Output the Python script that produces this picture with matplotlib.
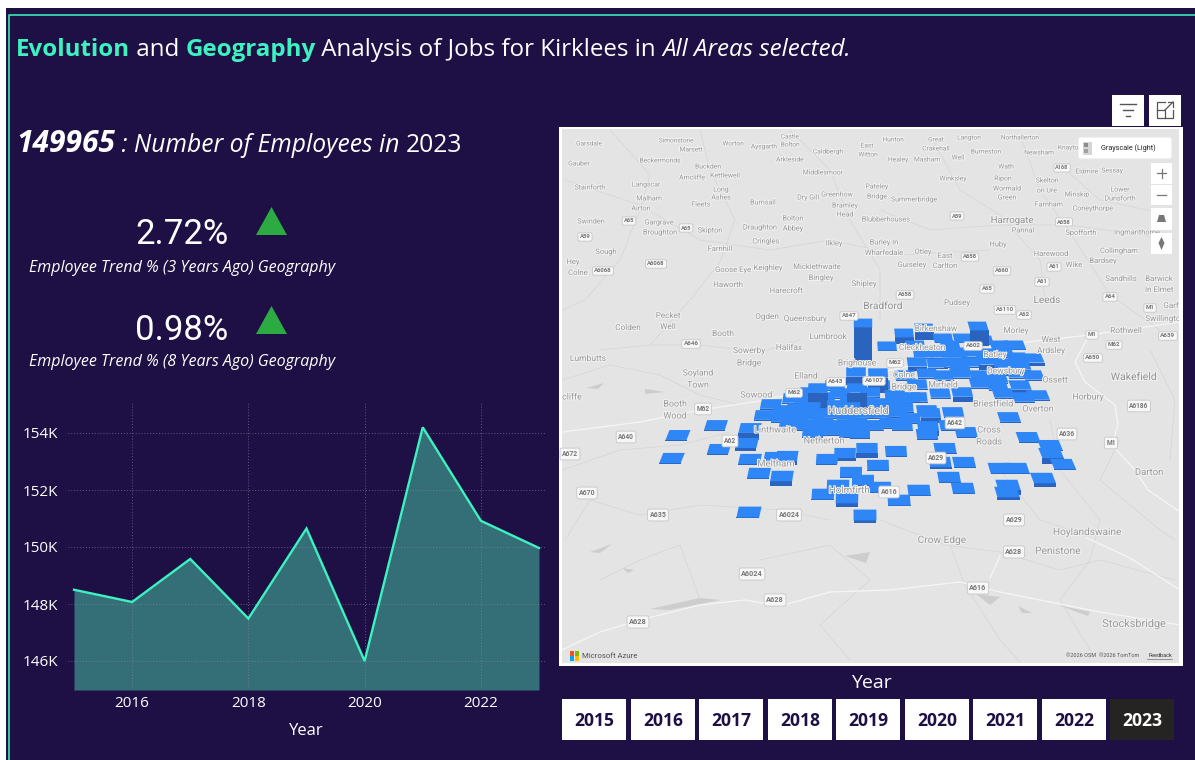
import matplotlib
matplotlib.use("Agg")
import matplotlib.pyplot as plt
import matplotlib.patheffects as pe
from matplotlib.patches import Rectangle, Polygon, FancyBboxPatch

# employees per year
years = [2015, 2016, 2017, 2018, 2019, 2020, 2021, 2022, 2023]
employees = [148500, 148070, 149580, 147490, 150650, 146000, 154200, 150920, 149965]
y_ticks = [146000, 148000, 150000, 152000, 154000]
y_labels = ["146K", "148K", "150K", "152K", "154K"]
x_ticks = [2016, 2018, 2020, 2022]
kpi_values = ["2.72%", "0.98%"]
kpi_labels = ["Employee Trend % (3 Years Ago) Geography", "Employee Trend % (8 Years Ago) Geography"]
slicer_years = ["2015", "2016", "2017", "2018", "2019", "2020", "2021", "2022", "2023"]

# map places, in map coordinates
place_names = ["Garsdale", "Simonstone", "Marsett", "Worton", "Aysgarth", "Castle", "Bolton", "Caldbergh", "Gauber",
               "Beckermonds", "Buckden", "Arkleside", "Middlesmoor", "Arncliffe", "Kettlewell", "Stainforth", "Langscar",
               "Long", "Ashes", "Malham", "Airton", "Fleets", "Burnsall", "Dry Gill", "Greenhow", "Bramley", "Head",
               "Swinden", "Gargrave", "Broughton", "Skipton", "Draughton", "Bolton", "Abbey", "Cringles", "Ilkley",
               "Sough", "Farnhill", "Hey", "Colne", "Goose Eye", "Keighley", "Micklethwaite", "Bingley", "Haworth",
               "Harecroft", "Shipley", "Pecket", "Well", "Colden", "Ogden", "Queensbury", "Hunton", "Great", "Crakehall",
               "Langton", "Northallerton", "East", "Witton", "Healey", "Masham", "Well", "Burneston", "Newsham", "Knayton",
               "Wath", "Eldmire", "Sessay", "Winksley", "Ripon", "Skelton", "on Ure", "Wormald", "Green", "Pateley",
               "Bridge", "Summerbridge", "Minskip", "Lower", "Dunsforth", "Farnham", "Coneythorpe", "Blubberhouses",
               "Pannal", "Spofforth", "Ingmanthorpe", "Burley In", "Wharfedale", "Otley", "East", "Carlton", "Huby",
               "Guiseley", "Harewood", "Collingham", "Bardsey", "Wike", "Sandhills", "Barwick", "In Elmet", "Pudsey",
               "Garforth", "Swillington", "Morley", "Rothwell", "Birkenshaw", "Booth", "Lumbrook", "Sowerby", "Bridge",
               "Halifax", "Brighouse", "West", "Ardsley", "Soyland", "Town", "Elland", "Sowood", "Booth", "Wood", "Colne",
               "Bridge", "Mirfield", "Dewsbury", "Batley", "Cleckheaton", "Ossett", "Briestfield", "Overton", "Horbury",
               "Linthwaite", "Netherton", "Cross", "Roads", "Meltham", "Holmfirth", "Crow Edge", "Hoylandswaine",
               "Penistone", "Stocksbridge", "Lumbutts", "cliffe", "Darton"]
place_x = [589, 676, 691, 733, 764, 790, 790, 828, 579, 660, 708, 790, 823, 692, 725, 590, 646, 721, 721, 649, 641, 701,
           763, 808, 837, 845, 845, 591, 659, 660, 710, 760, 793, 793, 766, 834, 606, 720, 573, 578, 733, 768, 817, 821,
           728, 786, 864, 668, 668, 628, 767, 805, 893, 936, 936, 969, 1020, 867, 868, 898, 927, 958, 986, 1039, 1070,
           1006, 1087, 1112, 953, 1003, 1047, 1047, 1007, 1007, 877, 877, 914, 1077, 1120, 1120, 1049, 1093, 886, 1023,
           1081, 1137, 884, 884, 923, 945, 945, 998, 912, 1051, 1119, 1103, 1074, 1121, 1159, 1159, 957, 1178, 1165,
           1016, 1126, 936, 723, 828, 749, 749, 789, 857, 1051, 1051, 698, 698, 806, 756, 675, 675, 904, 904, 943, 1006,
           995, 922, 1055, 993, 1038, 1088, 775, 824, 989, 989, 776, 849, 942, 1087, 1058, 1134, 588, 572, 1149]
place_y = [144, 141, 150, 144, 147, 137, 145, 152, 164, 161, 167, 160, 173, 178, 176, 188, 185, 190, 198, 199, 209, 205,
           203, 198, 195, 206, 215, 222, 223, 233, 231, 228, 219, 229, 242, 244, 252, 249, 262, 273, 270, 268, 267, 278,
           285, 291, 284, 316, 327, 328, 317, 319, 140, 140, 149, 138, 138, 146, 155, 160, 160, 158, 152, 153, 148,
           167, 172, 171, 179, 179, 181, 191, 189, 198, 187, 197, 200, 195, 190, 199, 205, 209, 220, 231,
           233, 233, 243, 253, 252, 256, 266, 245, 265, 254, 251, 261, 265, 279, 279, 290, 303, 306, 319,
           331, 331, 329, 334, 337, 351, 363, 348, 363, 340, 351, 373, 385, 376, 395, 404, 416, 375, 387, 385, 371,
           355, 348, 380, 404, 409, 397, 430, 441, 430, 442, 464, 490, 540, 532, 551, 624, 359, 397, 472]
city_names = ["Bradford", "Leeds", "Harrogate", "Huddersfield", "Wakefield"]
city_x = [883, 1047, 1012, 858, 1134]
city_y = [306, 300, 220, 411, 377]
shield_names = ["A65", "A65", "A59", "A6068", "A6068", "A647", "A59", "A168", "A658", "A658", "A658", "A660", "A61", "A61",
                "A65", "A64", "M1", "A6110", "A62", "A646", "M62", "A643", "A6107", "M62", "M62", "A62", "A642", "A636",
                "A629", "A616", "A6024", "A635", "A629", "A640", "A672", "A670", "A628", "A6024", "A628", "A628", "A616",
                "A639", "M62", "M1", "A650", "A6186", "M1", "A602"]
shield_x = [629, 686, 585, 656, 603, 849, 957, 1062, 1064, 970, 905, 1002, 1054, 1042, 987, 1110, 1150, 1005, 1024, 691,
            895, 836, 874, 794, 703, 730, 955, 1067, 936, 889, 789, 658, 1014, 626, 570, 587, 638, 752, 775, 1014, 978,
            1168, 1114, 1092, 1093, 1139, 1111, 973]
shield_y = [221, 228, 237, 264, 271, 316, 216, 168, 222, 257, 295, 271, 267, 282, 289, 297, 308, 310, 315, 344, 363, 382,
            381, 393, 409, 441, 423, 434, 458, 492, 515, 515, 520, 437, 454, 493, 622, 574, 600, 552, 588, 336, 345, 335,
            358, 406, 443, 346]

# job location bars, position and height on the map
bar_x = [678, 716, 672, 719, 750, 747, 750, 759, 782, 775, 787, 771, 765, 781, 749, 865, 823, 847, 899, 919, 963, 949,
         964, 940, 945, 878, 851, 863, 838, 880, 867, 896, 827, 845, 1008, 1007, 1000, 1017, 1043, 1063, 1051, 1050,
         1028, 1009, 966, 953, 928, 927, 950,
         783, 797, 810, 823, 837, 850, 867, 883, 897, 903, 782, 797, 813, 830, 847, 863, 880, 897, 910, 790, 807, 823,
         840, 857, 873, 890, 902, 813, 832, 850, 860, 793, 810, 840, 818, 857, 878, 863, 856, 917, 927,
         924, 904, 978, 887, 943, 963, 983, 923, 940, 957, 970, 987, 1003, 1017, 1033, 917, 937, 953, 970, 987, 1003,
         1020, 927, 943, 960, 980, 997, 1017, 1033, 917, 940, 962, 980, 997, 1020, 1003, 1023, 1038, 910, 930,
         825, 850, 870, 835, 805, 880, 895, 950, 1000, 1015, 960, 905, 915]
bar_y = [435, 425, 458, 449, 428, 443, 459, 473, 476, 457, 456, 404, 415, 415, 512, 515, 494, 498, 500, 490, 488, 477,
         462, 462, 448, 465, 472, 480, 485, 487, 448, 451, 459, 453, 485, 492, 468, 468, 478, 464, 453, 445,
         437, 417, 432, 412, 426, 434, 425,
         410, 408, 407, 403, 405, 407, 402, 403, 400, 407, 417, 417, 415, 413, 415, 413, 413, 412, 418, 423, 425, 423,
         425, 423, 425, 423, 425, 432, 430, 432, 433, 398, 392, 393, 388, 388, 373, 323, 372, 397, 410,
         328, 333, 326, 346, 338, 338, 340, 353, 353, 353, 352, 353, 352, 357, 358, 362, 363, 362, 362, 360, 363,
         365, 373, 375, 373, 375, 378, 373, 375, 384, 393, 392, 383, 385, 385, 393, 397, 395, 397, 413,
         397, 398, 392, 385, 398, 385, 395, 345, 345, 345, 368, 375, 345]
bar_h = [1, 1, 1, 1, 7, 3, 1, 1, 5, 1, 4, 1, 1, 1, 1, 3, 1, 4, 1, 1, 1, 1,
         1, 2, 1, 1, 1, 1, 1, 1, 5, 1, 1, 3, 5, 3, 1, 1, 4, 1, 6, 1,
         1, 1, 1, 1, 5, 1, 1,
         1, 1, 1, 1, 1, 1, 1, 1, 1, 1, 1, 1, 1, 1, 1, 1, 1, 1, 1, 1, 1, 1,
         1, 1, 1, 1, 1, 1, 1, 1, 1, 1, 1, 1, 17, 18, 15, 36, 8, 1, 1,
         8, 7, 16, 1, 1, 1, 1, 1, 1, 1, 1, 1, 1, 1, 3, 4, 1, 1, 1, 5, 8,
         1, 1, 1, 1, 1, 1, 1, 1, 1, 1, 5, 1, 1, 4, 1, 1, 1, 1, 5,
         1, 1, 1, 1, 1, 1, 1, 1, 1, 1, 1, 1, 1]

# basemap roads and reservoirs
main_roads = [[(562, 432), (640, 422), (700, 410), (760, 401), (830, 385), (900, 368), (1000, 345), (1090, 335), (1180, 322)],
              [(1092, 330), (1075, 362), (1085, 382), (1115, 405), (1118, 425), (1112, 445), (1135, 470), (1148, 490), (1180, 512)],
              [(562, 650), (600, 632), (640, 620), (700, 605), (745, 600), (780, 606), (830, 592), (890, 590), (960, 582),
               (1000, 592), (1050, 602), (1100, 612), (1180, 625)],
              [(1087, 538), (1130, 558), (1180, 590)], [(990, 578), (1000, 556)]]
minor_roads = [[(565, 180), (640, 205), (700, 240), (770, 250), (830, 240), (900, 255), (990, 250)],
               [(610, 130), (650, 175), (640, 210), (620, 260), (585, 300), (562, 310)],
               [(700, 130), (710, 170), (735, 220), (720, 262), (690, 300), (650, 345)],
               [(790, 130), (830, 170), (850, 220), (880, 270), (880, 320)],
               [(930, 135), (960, 190), (1000, 215), (1040, 260), (1045, 300)],
               [(1020, 135), (1040, 190), (1075, 240), (1110, 295), (1160, 330)],
               [(1060, 165), (1100, 200), (1170, 215)],
               [(880, 210), (930, 230), (1000, 225), (1070, 225), (1175, 240)],
               [(600, 350), (650, 345), (700, 345), (760, 352), (800, 340)],
               [(562, 380), (610, 365), (660, 375), (700, 395), (740, 405)],
               [(562, 470), (620, 450), (680, 445), (730, 432)],
               [(565, 540), (590, 500), (640, 515), (700, 505), (780, 510), (830, 520)],
               [(600, 580), (640, 560), (680, 545), (700, 600)],
               [(880, 520), (945, 545), (1000, 552), (1060, 570), (1100, 560), (1175, 580)],
               [(950, 545), (965, 585), (1000, 640), (1020, 662)],
               [(1050, 420), (1060, 470), (1100, 520), (1090, 560), (1060, 600), (1090, 650)],
               [(1120, 440), (1100, 480), (1160, 530), (1175, 540)],
               [(1150, 350), (1175, 400), (1170, 460)],
               [(760, 560), (830, 545), (870, 580), (820, 625), (850, 660)],
               [(1000, 470), (1040, 520), (1085, 535)]]
reservoirs = [[(586, 388), (604, 383), (598, 389)], [(645, 389), (665, 392), (645, 394)], [(590, 552), (612, 544), (600, 553)],
              [(622, 568), (634, 570), (628, 573)], [(650, 609), (700, 598), (720, 600), (670, 610)],
              [(845, 556), (870, 552), (866, 563)], [(976, 594), (1000, 597), (990, 605)], [(1018, 606), (1032, 613), (1022, 613)],
              [(1058, 605), (1090, 612), (1088, 616)]]

bg = "#1E1045"
teal = "#3DF2C0"
font = ["Open Sans", "Noto Sans", "DejaVu Sans"]
plt.rcParams["font.family"] = font

fig = plt.figure(figsize=(11.95, 7.6), dpi=100, facecolor="white")
ax = fig.add_axes([0, 0, 1, 1])
ax.set_xlim(0, 1195)
ax.set_ylim(760, 0)
ax.axis("off")

# page background and the thin teal frame
ax.add_patch(Rectangle((6, 8), 1189, 752, fc=bg, ec="none"))
ax.plot([9.5, 9.5, 1195], [760, 14.5, 14.5], color="#38D6B0", lw=1.3)


def text_w(s, **kw):
    t = ax.text(0, 0, s + ".", **kw)
    d = ax.text(0, 0, ".", **kw)
    r = fig.canvas.get_renderer()
    w = t.get_window_extent(r).width - d.get_window_extent(r).width
    t.remove()
    d.remove()
    return w


def runs(x, y, parts):
    # several styles on one line, placed one after the other
    for s, color, weight, style, size in parts:
        kw = dict(fontsize=size, fontweight=weight, fontstyle=style)
        ax.text(x, y, s, color=color, va="baseline", ha="left", **kw)
        x += text_w(s, **kw)


runs(16, 56, [("Evolution", teal, "bold", "normal", 17.4), (" and ", "white", "normal", "normal", 17.4),
              ("Geography", teal, "bold", "normal", 17.4), (" Analysis of Jobs for Kirklees in ", "white", "normal", "normal", 17.4),
              ("All Areas selected.", "white", "normal", "italic", 17.4)])
runs(16, 152, [("149965", "white", "bold", "italic", 21.5), (" : Number of Employees in ", "white", "normal", "italic", 17.7),
               ("2023", "white", "normal", "normal", 17.7)])

# KPI cards
kpi_y = [235, 330]
lab_y = [268.5, 362.5]
tri_y = [235, 334]
for i in range(2):
    ax.text(182, kpi_y[i], kpi_values[i], color="white", fontsize=25, family="Roboto", ha="center", va="center")
    ax.text(182, lab_y[i], kpi_labels[i], color="white", fontsize=11.5, fontstyle="italic", ha="center", va="center")
    ax.add_patch(Polygon([(256, tri_y[i]), (287, tri_y[i]), (271.5, tri_y[i] - 28)], fc="#2CAB43", ec="none"))

# line chart
left, right, top, bottom = 68, 545, 403, 690
ca = fig.add_axes([left / 1195, 1 - bottom / 760, (right - left) / 1195, (bottom - top) / 760])
ca.patch.set_alpha(0)
xs = 465 / 8
ca.set_xlim(2015 - 6 / xs, 2023 + 6 / xs)
ca.set_ylim(146000 - 29 / 28.5 * 1000, 146000 + 258 / 28.5 * 1000)
ca.fill_between(years, employees, ca.get_ylim()[0], color="#346E76", lw=0, zorder=1)
ca.plot(years, employees, color=teal, lw=1.7, zorder=3, solid_joinstyle="miter")
ca.set_xticks(x_ticks)
ca.set_yticks(y_ticks)
ca.set_yticklabels(y_labels)
ca.grid(True, color="#8f8aa6", ls=(0, (1, 2)), lw=0.7, alpha=0.6, zorder=2)
ca.set_axisbelow(False)
ca.tick_params(length=0, labelsize=11, labelcolor="white", pad=4)
ca.tick_params(axis="y", pad=7)
for s in ca.spines.values():
    s.set_visible(False)
ca.set_xlabel("Year", color="white", fontsize=12, labelpad=9)

# map frame
ma = fig.add_axes([559 / 1195, 1 - 666 / 760, 624 / 1195, 539 / 760])
ma.set_xlim(559, 1183)
ma.set_ylim(666, 127)
ma.axis("off")
ma.add_patch(Rectangle((559, 127), 624, 539, fc="white", ec="none"))
ma.add_patch(Rectangle((562, 129), 617, 534, fc="#E4E4E4", ec="none"))
clip = ma.patches[-1]

for r in minor_roads:
    ln, = ma.plot([p[0] for p in r], [p[1] for p in r], color="#D5D5D5", lw=0.5)
    ln.set_clip_path(clip)
for r in reservoirs:
    ma.add_patch(Polygon(r, fc="#CDCDCD", ec="none"))
for r in main_roads:
    ln, = ma.plot([p[0] for p in r], [p[1] for p in r], color="#F6F6F6", lw=0.9)
    ln.set_clip_path(clip)

halo = [pe.withStroke(linewidth=1.4, foreground="#F2F2F2")]
for n, x, y in zip(place_names, place_x, place_y):
    t = ma.text(x, y, n, color="#9A9A9A", fontsize=4.7 + 0.0065 * (y - 140), family="Roboto", ha="center", va="center",
                path_effects=halo, zorder=5, clip_on=True)
    t.set_clip_path(clip)
for n, x, y in zip(city_names, city_x, city_y):
    ma.text(x, y, n, color="#929292", fontsize=6.9 + 0.004 * (y - 220), family="Roboto", ha="center", va="center",
            path_effects=halo, zorder=5)
for n, x, y in zip(shield_names, shield_x, shield_y):
    ma.text(x, y, n, color="#777777", fontsize=3.9 + 0.003 * (y - 140), fontweight="bold", family="Roboto", ha="center",
            va="center", zorder=5, bbox=dict(boxstyle="round,pad=0.28", fc="#F7F7F7", ec="#C6C6C6", lw=0.6))

# bars, the ones with the farthest base first
order = sorted(range(len(bar_x)), key=lambda i: bar_y[i] + bar_h[i])
w, d = 19, 9
for i in order:
    x, y, h = bar_x[i], bar_y[i], bar_h[i]
    sk = (860 - x) * 0.022
    sc = 0.98 + (y - 330) * 0.0012
    w2, d2 = w * sc / 2, d * sc / 2
    top_face = [(x - w2 + sk / 2, y - d2), (x + w2 + sk / 2, y - d2), (x + w2 - sk / 2, y + d2), (x - w2 - sk / 2, y + d2)]
    front = [(x - w2 - sk / 2, y + d2), (x + w2 - sk / 2, y + d2), (x + w2 - sk / 2, y + d2 + h), (x - w2 - sk / 2, y + d2 + h)]
    ma.add_patch(Polygon(front, fc="#2A64BE", ec="none", zorder=3))
    ma.add_patch(Polygon(top_face, fc="#2F86F6", ec="none", zorder=3))

# map controls
ma.add_patch(FancyBboxPatch((1079, 138), 92, 20, boxstyle="round,pad=0.5,rounding_size=2", fc="white", ec="none", zorder=7))
ma.add_patch(Rectangle((1083, 142), 9, 13, fc="#D5D5D5", ec="none", zorder=8))
ma.add_patch(Rectangle((1084, 143), 4, 4, fc="#8C8C8C", ec="none", zorder=8))
ma.add_patch(Rectangle((1084, 149), 4, 4, fc="#A0A0A0", ec="none", zorder=8))
ma.text(1101, 148, "Grayscale (Light)", color="#222222", fontsize=5.2, family="Roboto", va="center", zorder=8)
for y0, y1 in [(163, 184), (185, 205), (208, 230), (233, 254)]:
    ma.add_patch(Rectangle((1151, y0), 21, y1 - y0, fc="white", ec="none", zorder=7))
ma.plot([1157, 1166], [173.5, 173.5], color="#777777", lw=0.9, zorder=8)
ma.plot([1161.5, 1161.5], [169, 178], color="#777777", lw=0.9, zorder=8)
ma.plot([1157, 1166], [195, 195], color="#777777", lw=0.9, zorder=8)
ma.add_patch(Polygon([(1157, 222), (1166, 222), (1164, 215), (1159, 215)], fc="#777777", ec="none", zorder=8))
ma.add_patch(Polygon([(1161.5, 237), (1164.5, 243), (1161.5, 250), (1158.5, 243)], fc="#777777", ec="none", zorder=8))

# Microsoft Azure logo and credits
logo = [(569.5, 651, "#F25022"), (574.7, 651, "#7FBA00"), (569.5, 656, "#00A4EF"), (574.7, 656, "#FFB900")]
for x, y, c in logo:
    ma.add_patch(Rectangle((x, y), 4.7, 4.6, fc=c, ec="none", zorder=7))
ma.text(582, 655.5, "Microsoft Azure", color="#555555", fontsize=5.6, va="center", family="Roboto", zorder=7)
ma.text(1066, 655.5, "©2026 OSM  ©2026 TomTom", color="#555555", fontsize=4, va="center", family="Roboto", zorder=7)
ma.text(1172, 655.5, "Feedback", color="#333333", fontsize=4, va="center", ha="right", family="Roboto", zorder=7)
ma.plot([1147, 1172], [659, 659], color="#555555", lw=0.4, zorder=7)

# filter and focus icons above the map
ax.add_patch(Rectangle((1112, 95), 32, 31, fc="white", ec="none"))
ax.add_patch(Rectangle((1149, 95), 32, 31, fc="white", ec="none"))
for x0, x1, y in [(1120, 1136, 104), (1123, 1133, 110), (1126, 1130, 116)]:
    ax.plot([x0, x1], [y, y], color="#555555", lw=1)
ax.plot([1165, 1157, 1157, 1173, 1173], [102, 102, 118, 118, 110], color="#555555", lw=0.9)
ax.plot([1157, 1165, 1165], [110, 110, 118], color="#555555", lw=0.9)
ax.plot([1165, 1173], [110, 102], color="#555555", lw=0.9)
ax.plot([1168, 1173, 1173], [102, 102, 107], color="#555555", lw=0.9)

# year slicer
ax.text(871, 683, "Year", color="white", fontsize=14, ha="center", va="center")
for i, yr in enumerate(slicer_years):
    x0 = 562.5 + i * 68.5
    sel = yr == "2023"
    ax.add_patch(Rectangle((x0, 699), 64, 41, fc="#252423" if sel else "white", ec="none"))
    ax.text(x0 + 32, 721, yr, color="white" if sel else bg, fontsize=12.6, fontweight="bold", ha="center", va="center")

fig.savefig("out.png", dpi=100, facecolor="white")
